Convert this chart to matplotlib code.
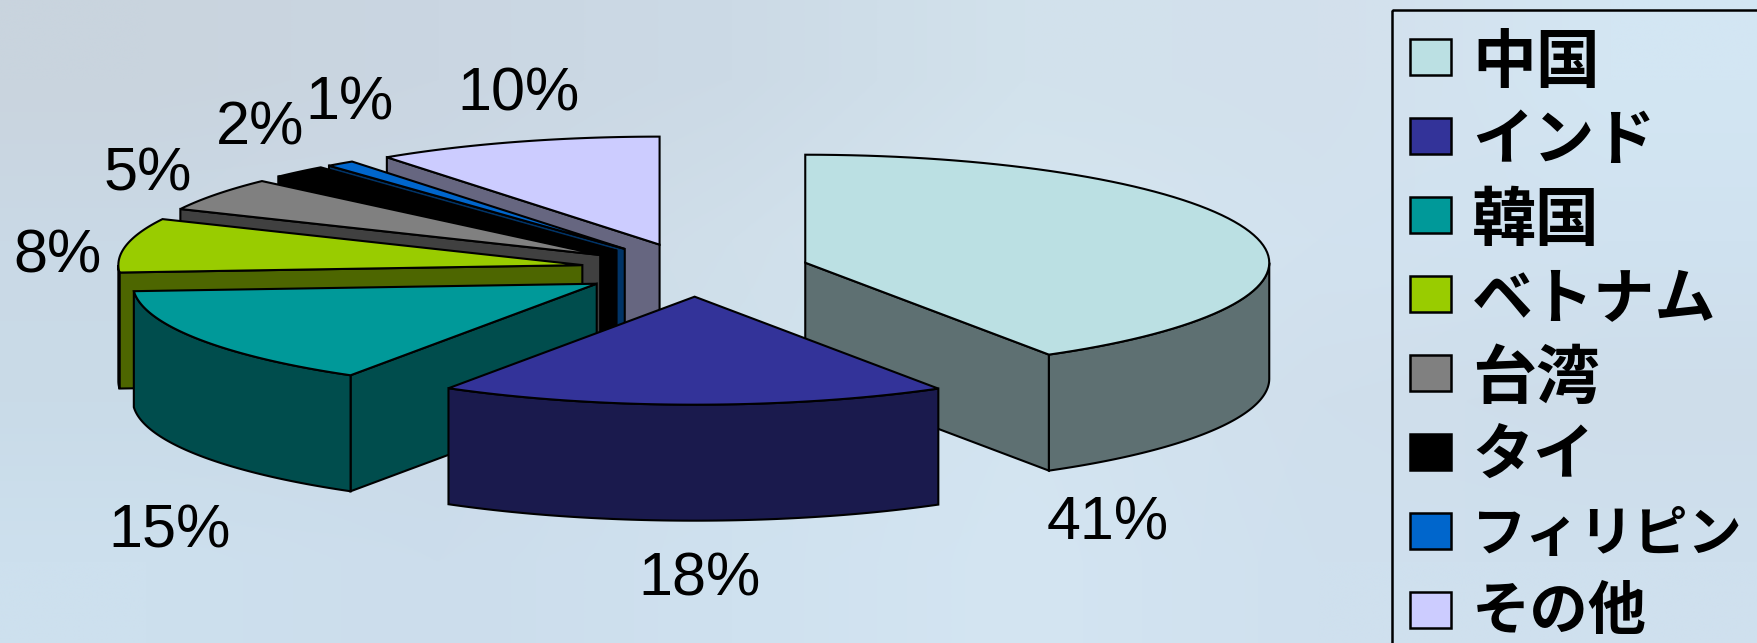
import numpy as np
import matplotlib; matplotlib.use('Agg')
import matplotlib.pyplot as plt
from matplotlib.colors import to_rgb
from matplotlib.patches import Polygon, Rectangle

plt.rcParams['font.family'] = ['Noto Sans CJK JP', 'DejaVu Sans']

# Data
countries = ['中国', 'インド', '韓国', 'ベトナム', '台湾', 'タイ', 'フィリピン', 'その他']
labels = ['41%', '18%', '15%', '8%', '5%', '2%', '1%', '10%']
# slice sizes as measured on the picture, the labels are rounded
shares = [41.2, 17.7, 15.0, 8.1, 5.0, 2.0, 1.0, 10.0]
top_colors = ['#BBE0E3', '#333399', '#009999', '#99CC00', '#808080', '#000000', '#0066CC', '#CCCCFF']
side_colors = ['#5E7072', '#1A1A4D', '#004D4D', '#4D6600', '#404040', '#000000', '#003366', '#666680']

# back to front
draw_order = [7, 6, 5, 4, 3, 2, 0, 1]

# pie geometry, in pixels
W, H = 1758, 643
CX, CY = 695, 270
A, B = 464, 108
DEPTH = 116
EXPLODE = 0.247

# label centres, same order as shares
label_x = [1108, 700, 170, 58, 148, 260, 350, 519]
label_y = [524, 580, 532, 257, 175, 129, 104, 95]

# legend text size per row, the long kana name and the last row have to stay inside the picture
legend_sizes = [46, 44, 46, 44, 46, 44, 39, 42]
legend_shift = [-1, -1, -1, -1, -1, -1, -1, -5]

# background wash, rough colours
bg_rows = [
    ['#C9D4DE', '#CAD6E2', '#CCDAE6', '#D2E2EC', '#D3E0EC', '#D3E6F3'],
    ['#CAD9E6', '#CCD9E6', '#D0DFEA', '#D5E6F0', '#D2E2EF', '#D0E2F0'],
    ['#C9DBE8', '#CBDAE8', '#CFE1EC', '#D3E4F0', '#D0DFEC', '#CEDDEA'],
    ['#CDE0EE', '#CCDDEC', '#CFE1EF', '#D4E5F2', '#CFE0EE', '#CFE0EE'],
]


def rim(cx, cy, a0, a1, n=80):
    t = np.radians(np.linspace(a0, a1, n))
    return np.column_stack([cx + A*np.sin(t), cy - B*np.cos(t)])


fig = plt.figure(figsize=(W/100, H/100), dpi=100)
ax = fig.add_axes([0, 0, 1, 1])
ax.set_xlim(0, W); ax.set_ylim(H, 0)
ax.axis('off')

bg = np.array([[to_rgb(c) for c in row] for row in bg_rows])
ax.imshow(bg, extent=[0, W, H, 0], aspect='auto', interpolation='bilinear', zorder=0)

edges = np.cumsum([0] + shares) * 360 / sum(shares)
style = dict(edgecolor='k', linewidth=1.5, joinstyle='miter')
z = 1
for i in draw_order:
    a0, a1 = edges[i], edges[i+1]
    mid = np.radians((a0 + a1) / 2)
    cx = CX + EXPLODE * A * np.sin(mid)
    cy = CY - EXPLODE * B * np.cos(mid)
    apex = np.array([[cx, cy]])
    drop = np.array([0, DEPTH])

    # radial wall facing the viewer
    if 180 < a0 < 360:
        p = rim(cx, cy, a0, a0, 1)
        wall = np.vstack([apex, p, p + drop, apex + drop])
        ax.add_patch(Polygon(wall, facecolor=side_colors[i], zorder=z, **style))
    if 0 < a1 < 180:
        p = rim(cx, cy, a1, a1, 1)
        wall = np.vstack([apex, p, p + drop, apex + drop])
        ax.add_patch(Polygon(wall, facecolor=side_colors[i], zorder=z, **style))

    # outer curved side, only the front half shows
    lo, hi = max(a0, 90), min(a1, 270)
    if lo < hi:
        p = rim(cx, cy, lo, hi)
        ax.add_patch(Polygon(np.vstack([p, (p + drop)[::-1]]),
                             facecolor=side_colors[i], zorder=z, **style))

    top = np.vstack([apex, rim(cx, cy, a0, a1)])
    ax.add_patch(Polygon(top, facecolor=top_colors[i], zorder=z, **style))
    z += 1

for s, x, y in zip(labels, label_x, label_y):
    ax.text(x, y, s, ha='center', va='center', fontsize=44,
            family=['Liberation Sans', 'DejaVu Sans'], zorder=20)

# legend, frame runs off the right and bottom edge
ax.add_patch(Rectangle((1392, 10), 500, 800, facecolor='none', edgecolor='k',
                       linewidth=1.8, zorder=20))
for j, name in enumerate(countries):
    yc = 57 + j * 79
    ax.add_patch(Rectangle((1410, yc - 18), 41, 36, facecolor=top_colors[j],
                           edgecolor='k', linewidth=1.8, zorder=20))
    ax.text(1472, yc + legend_shift[j], name, ha='left', va='center_baseline',
            fontsize=legend_sizes[j], fontweight='bold', zorder=20)

fig.savefig('out.png', dpi=100)
plt.close(fig)
